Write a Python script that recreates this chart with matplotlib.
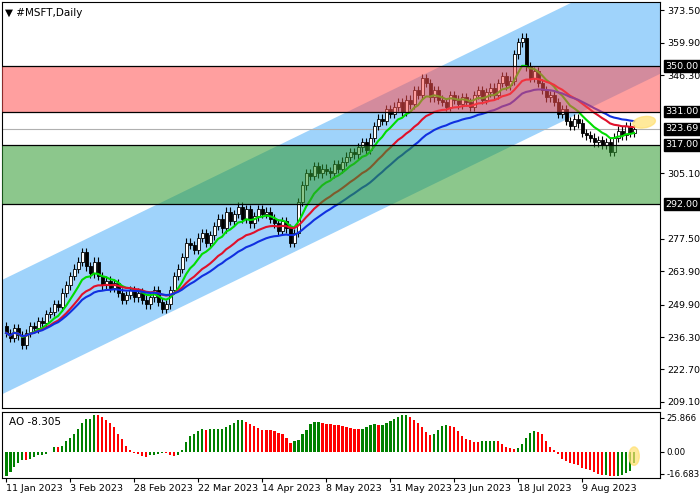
import matplotlib
matplotlib.use("Agg")
import matplotlib.pyplot as plt
import matplotlib.transforms as mtransforms
from matplotlib.patches import Ellipse
import numpy as np
import pandas as pd

closes = [238, 236, 240, 237, 233, 238, 241, 240, 243, 242, 246,
          247, 250, 249, 255, 258, 262, 265, 268,
          272, 266, 263, 268, 262, 258,
          260, 257, 259, 255, 252, 254, 256, 253,
          255, 252, 250, 253, 256, 251, 248, 250,
          256, 262, 265, 270, 276, 275, 273, 278,
          280, 276, 279, 283, 286, 282, 289, 285,
          288, 291, 286, 290, 284, 287, 290, 288,
          289, 286, 284, 281, 285, 282, 276, 280,
          293, 300, 305, 304, 308, 305, 307, 306,
          305, 309, 307, 310, 312, 314, 313, 316,
          318, 315, 320, 325, 328, 327, 332, 330,
          333, 335, 331, 336, 334, 340, 338, 345,
          343, 337, 340, 336, 335, 333, 338, 336,
          334, 337, 335, 333, 338, 340, 336, 339,
          341, 338, 343, 346, 342, 344, 355, 360,
          362, 350, 345, 348, 343, 340, 337, 338,
          335, 330, 332, 327, 325, 328, 326, 322,
          321, 320, 318, 319, 317, 318, 314, 320,
          323, 321, 325, 322, 323.69]
first_open = 241
ao_values = [-18.5, -15.2, -11.4, -8.4, -6.4, -6.4, -5.1, -3.8, -2.5, -2.0, -1.3, 0.2, 3.6, 3.6, 4.3,
             8.1, 10.9, 14.0, 17.3, 22.4, 24.9, 25.4, 27.9, 27.9, 26.7, 24.6, 22.1, 19.1, 14.0, 10.2,
             4.6, 1.3, -0.8, -1.3, -3.3, -3.8, -2.5, -2.0, -1.3, -0.5, -0.8, -2.0, -2.8, -2.0, 1.3,
             7.6, 11.9, 14.0, 16.0, 17.8, 16.5, 17.3, 17.4, 17.5, 17.8, 19.1, 20.3, 22.1, 24.1, 24.2,
             23.1, 21.6, 19.6, 18.5, 17.0, 16.5, 16.4, 16.0, 14.7, 14.0, 10.9, 6.9, 8.4, 9.4, 13.5,
             17.0, 21.6, 22.6, 22.7, 22.1, 21.6, 21.1, 20.8, 20.3, 19.6,
             18.9, 18.2, 17.4, 17.3, 17.4, 18.9, 20.5, 21.2, 20.5, 20.6, 22.0, 23.6, 25.1, 26.6, 28.2,
             28.3, 26.6, 24.3, 22.0, 18.9, 15.1, 12.8, 13.6, 16.6, 19.7, 20.5, 19.7, 18.9, 15.9, 12.0,
             9.7, 9.0, 7.4, 7.3, 8.2, 8.3, 8.4, 8.5, 8.2, 5.9, 3.6, 2.8, 2.0, 2.8, 5.9,
             10.5, 14.3, 15.9, 15.1, 13.6, 8.2, 3.6, 1.3, -1.5, -5.4, -6.9, -8.4, -9.2, -10.0, -12.3,
             -13.1, -13.8, -15.4, -16.9, -17.7, -17.6, -18.4, -18.5, -18.4, -17.7, -16.1, -14.6, -8.305]
tick_labels = ["11 Jan 2023", "3 Feb 2023", "28 Feb 2023", "22 Mar 2023", "14 Apr 2023",
               "8 May 2023", "31 May 2023", "23 Jun 2023", "18 Jul 2023", "9 Aug 2023"]
price_ticks = [373.50, 359.90, 346.30, 305.10, 277.50, 263.90, 249.90, 236.30, 222.70, 209.10]
levels = [350.00, 331.00, 317.00, 292.00]
current = 323.69
channel_upper0, channel_lower0, channel_slope = 261.4, 213.4, 0.818
ao_top, ao_bottom = 25.866, -16.683

c = np.array(closes, float)
n = len(c)
o = np.concatenate([[first_open], c[:-1]])
hi = np.maximum(o, c) + 1.8
lo = np.minimum(o, c) - 1.8
idx = np.arange(n)

fig = plt.figure(figsize=(7, 5), dpi=100)
ax = fig.add_axes([0.003, 0.184, 0.94, 0.812])
ax2 = fig.add_axes([0.003, 0.044, 0.94, 0.132])

xmin, xmax = -1, 163.5
xs = np.array([xmin, xmax])
ax.fill_between(xs, channel_lower0 + channel_slope * xs, channel_upper0 + channel_slope * xs,
                color="#9fd3fb", zorder=1, lw=0)
for i in range(n):
    ax.vlines(i, lo[i], hi[i], color="black", lw=0.8, zorder=3)
    bull = c[i] >= o[i]
    ax.bar(i, max(abs(c[i] - o[i]), 0.3), bottom=min(o[i], c[i]), width=0.75,
           color="white" if bull else "black", edgecolor="black", lw=0.6, zorder=4)
s = pd.Series(c)
ax.plot(idx, s.ewm(span=9).mean(), color="#00dd00", lw=1.5, zorder=5)
ax.plot(idx, s.ewm(span=20).mean(), color="#e0102a", lw=1.5, zorder=5)
ax.plot(idx, s.ewm(span=32).mean(), color="#1030e0", lw=1.5, zorder=5)
ax.axhspan(levels[1], levels[0], color="#ff5050", alpha=0.55, zorder=6, lw=0)
ax.axhspan(levels[3], levels[2], color="#2e9a2e", alpha=0.55, zorder=6, lw=0)
for lv in levels:
    ax.axhline(lv, color="black", lw=0.9, zorder=7)
ax.axhline(current, color="#b0b0b0", lw=0.8, zorder=2)
ax.add_patch(Ellipse((n + 1.5, 326.5), 6, 4.5, angle=30, color="#ffe070", alpha=0.7, zorder=8))
ax.annotate("", xy=(n + 6, 347.5), xytext=(n - 2, 332),
            arrowprops=dict(arrowstyle="-|>", ls="--", color="#ff1a1a", lw=1.5), zorder=9)
ax.annotate("", xy=(n + 6, 293), xytext=(n - 4, 318),
            arrowprops=dict(arrowstyle="-|>", ls="--", color="#1a7a1a", lw=1.5), zorder=9)

ax.set_xlim(xmin, xmax)
ax.set_ylim(206.5, 377)
ax.yaxis.tick_right()
ax.set_yticks(price_ticks)
ax.set_yticklabels([f"{v:.2f}" for v in price_ticks], fontsize=6.8)
ax.set_xticks([])
tr = mtransforms.blended_transform_factory(ax.transAxes, ax.transData)
for v in levels + [current]:
    ax.text(1.008, v, f"{v:.2f}", transform=tr, fontsize=6.8, color="white", va="center",
            ha="left", bbox=dict(boxstyle="square,pad=0.15", fc="black", ec="black"), zorder=10,
            clip_on=False)
ax.text(0.005, 0.985, "▼ #MSFT,Daily", transform=ax.transAxes, fontsize=7.5, va="top", zorder=11)

ao = np.array(ao_values)
cols = ["#008000" if i == 0 or ao[i] > ao[i - 1] else "#ff0000" for i in range(n)]
ax2.bar(idx, ao, width=0.7, color=cols)
ax2.add_patch(Ellipse((n - 1, ao[-1] / 2 + 1), 2.6, 14, color="#ffe070", alpha=0.7))
ax2.set_xlim(xmin, xmax)
ax2.set_ylim(-19.8, 30.4)
ax2.yaxis.tick_right()
ax2.set_yticks([ao_top, 0, ao_bottom])
ax2.set_yticklabels(["25.866", "0.00", "-16.683"], fontsize=6.2)
ax2.set_xticks(np.arange(0, 160, 16))
ax2.set_xticklabels(tick_labels, fontsize=6.8, ha="left")
ax2.text(0.01, 0.93, f"AO {ao[-1]:.3f}", transform=ax2.transAxes, fontsize=7.5, va="top")
ax.tick_params(length=3, pad=2)
ax2.tick_params(length=3, pad=1.5)
fig.savefig("out.png", dpi=100)
